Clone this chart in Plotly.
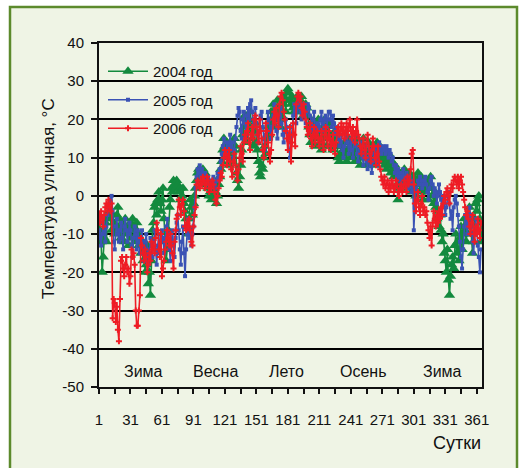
import plotly.graph_objects as go

# ---------------- data ----------------
t2004 = [
    -7, -9, -12, -20, -16, -11, -7, -12, -6, -5,
    -4, -6, -9, -5, -7, -10, -8, -5, -3, -6,
    -8, -11, -7, -9, -12, -6, -10, -8, -13, -9,
    -7, -11, -6, -8, -12, -9, -7, -10, -13, -11,
    -15, -12, -17, -14, -20, -18, -13, -23, -20, -26,
    -17, -9, -7, -3, -2, -5, -1, 1, -2, -4,
    -1, 2, -6, -12, -17, -14, -9, -3, -1, 2,
    1, 4, 3, 2, 4, 3, 1, 2, -1, 0,
    2, -2, -4, -6, -8, -10, -6, -1, -3, -5,
    -2, 0, 2, 4, 6, 7, 5, 6, 4, 7,
    5, 6, 3, 4, 2, 0, 1, -1, 0, 2,
    3, 1, -2, 0, 3, 5, 7, 9, 12, 15,
    13, 10, 14, 12, 8, 11, 14, 9, 12, 15,
    13, 6, 4, 2, 5, 8, 12, 16, 18, 21,
    19, 14, 17, 20, 22, 18, 15, 13, 17, 19,
    14, 12, 9, 6, 5, 8, 7, 10, 13, 11,
    15, 18, 16, 19, 22, 20, 24, 21, 18, 22,
    25, 23, 20, 18, 21, 24, 26, 25, 22, 27,
    28, 27, 25, 24, 26, 23, 22, 24, 25, 26,
    24, 22, 25, 26, 23, 21, 22, 24, 23, 21,
    18, 16, 14, 17, 19, 15, 13, 16, 18, 20,
    17, 14, 12, 15, 18, 20, 17, 13, 15, 19,
    16, 13, 15, 12, 14, 17, 15, 13, 10, 9,
    11, 13, 10, 12, 14, 11, 9, 12, 15, 13,
    10, 12, 14, 11, 9, 13, 15, 12, 10, 8,
    11, 13, 15, 12, 10, 8, 11, 14, 12, 9,
    11, 13, 10, 8, 12, 14, 11, 9, 10, 12,
    11, 9, 8, 10, 7, 9, 11, 8, 6, 9,
    7, 5, 8, 6, 3, -1, 2, 4, 6, 3,
    5, 7, 4, 2, 5, 3, 6, 4, 1, 3,
    5, 2, 0, 4, 6, 3, 1, 5, 2, -1,
    3, 1, 4, 2, -1, 3, 5, 2, 0, -2,
    1, -3, -6, -4, -8, -5, -9, -12, -10, -15,
    -17, -20, -14, -22, -26, -21, -18, -16, -19, -13,
    -10, -15, -12, -17, -11, -8, -14, -10, -6, -9,
    -12, -8, -5, -3, -7, -10, -15, -12, -6, -2,
    -4, -1, 0, -6, -12, -7,
]

t2005 = [
    -9, -11, -13, -10, -7, -9, -12, -8, -5, -3,
    -2, -1, 0, -4, -12, -14, -8, -6, -10, -12,
    -9, -7, -11, -14, -8, -6, -9, -12, -10, -7,
    -9, -13, -16, -11, -8, -10, -14, -9, -12, -15,
    -11, -9, -13, -17, -12, -10, -14, -18, -15, -11,
    -13, -16, -12, -9, -14, -18, -13, -10, -15, -12,
    -9, -11, -15, -12, -8, -6, -10, -14, -17, -12,
    -9, -13, -16, -11, -7, -5, -9, -14, -18, -12,
    -8, -15, -21, -14, -10, -6, -11, -9, -13, -10,
    -8, -3, 2, 5, 7, 6, 8, 5, 7, 6,
    4, 6, 5, 3, 5, 4, 2, 4, 3, 5,
    3, 2, 4, 6, 4, 7, 9, 11, 13, 15,
    12, 10, 14, 11, 13, 16, 12, 14, 10, 12,
    15, 18, 21, 23, 22, 17, 15, 20, 22, 19,
    16, 21, 23, 20, 24, 25, 22, 18, 20, 23,
    19, 16, 14, 17, 21, 22, 18, 15, 12, 16,
    19, 22, 20, 17, 15, 18, 21, 24, 20, 17,
    15, 18, 21, 23, 19, 16, 14, 17, 20, 18,
    15, 12, 10, 14, 18, 21, 24, 22, 19, 23,
    25, 24, 22, 20, 23, 24, 21, 19, 22, 24,
    23, 21, 19, 17, 20, 22, 18, 16, 19, 17,
    18, 20, 22, 19, 17, 20, 21, 18, 20, 22,
    22, 20, 18, 21, 19, 17, 16, 18, 15, 13,
    14, 16, 12, 10, 13, 15, 17, 14, 11, 13,
    15, 12, 10, 14, 16, 13, 11, 9, 12, 14,
    12, 10, 8, 11, 13, 9, 7, 10, 12, 8,
    6, 9, 11, 13, 10, 8, 12, 14, 13, 11,
    12, 13, 12, 11, 13, 12, 10, 12, 11, 9,
    10, 8, 6, 8, 5, 7, 4, 6, 3, 5,
    7, 5, 3, 6, 4, 2, 5, 3, 1, 4,
    -9, -3, 2, 1, 4, 3, 5, 4, 2, 3,
    4, 5, 3, 1, -1, 2, 4, 5, 3, 0,
    2, 1, -2, 0, 3, 1, -1, -3, 0, -2,
    -5, -3, 0, 1, -2, -6, -4, -9, -3, -1,
    0, -2, -5, -8, -12, -16, -19, -14, -8, -5,
    -7, -10, -6, -3, -5, -8, -12, -15, -10, -6,
    -9, -13, -16, -20, -14,
]

t2006 = [
    -5, -7, -4, -6, -8, -5, -3, -2, -4, -1,
    -3, -4, -2, -32, -27, -28, -33, -29, -35, -38,
    -27, -17, -16, -19, -21, -18, -16, -20, -19, -23,
    -21, -14, -16, -15, -18, -30, -34, -34, -30, -26,
    -11, -13, -15, -17, -14, -16, -20, -18, -15, -17,
    -12, -14, -13, -15, -11, -7, -9, -14, -16, -10,
    -21, -19, -17, -14, -12, -9, -11, -13, -10, -13,
    -15, -19, -12, -9, -6, -5, -1, -3, -5, -2,
    -1, -4, -8, -9, -7, -8, -6, -9, -12, -13,
    -8, -5, -3, 3, 4, 3, 2, 4, 3, 5,
    4, 2, 3, 5, 4, 1, 3, 2, 4, 3,
    1, -1, -2, 0, 2, 4, 6, 5, 8, 10,
    12, 11, 8, 10, 12, 9, 7, 5, 9, 11,
    8, 6, 4, 7, 10, 13, 11, 9, 14, 16,
    15, 17, 19, 14, 12, 16, 18, 15, 20, 21,
    18, 16, 14, 20, 17, 15, 12, 10, 13, 19,
    17, 14, 11, 9, 12, 16, 20, 22, 19, 23,
    21, 18, 24, 26, 27, 25, 22, 20, 17, 15,
    12, 16, 18, 9, 14, 19, 16, 13, 24, 26,
    27, 25, 26, 23, 21, 24, 22, 20, 18, 16,
    17, 19, 15, 13, 16, 18, 14, 16, 17, 15,
    13, 15, 17, 14, 12, 16, 18, 15, 13, 17,
    15, 12, 14, 16, 13, 11, 14, 17, 18, 16,
    17, 19, 16, 18, 15, 17, 19, 16, 18, 20,
    17, 15, 18, 16, 14, 17, 20, 16, 15, 13,
    11, 13, 15, 12, 10, 14, 16, 13, 11, 9,
    12, 15, 13, 10, 8, 11, 13, 9, 7, 5,
    4, 3, 5, 2, 3, 4, 1, 3, 2, 4,
    3, 1, 2, 4, 3, 1, 0, 2, 3, 1,
    2, 4, 3, 1, 5, 3, 4, 7, 11, 12,
    3, -2, -4, -1, 1, -3, -5, -2, 0, -4,
    -3, -5, -4, -7, -9, -11, -8, -13, -7, -4,
    -6, -8, -5, -7, -4, -6, -3, -5, -2, 0,
    -1, 1, 2, 0, -2, 1, 3, 2, 4, 5,
    4, 3, 5, 2, 4, 5, 3, 1, -1, -3,
    -5, -4, -6, -8, -10, -7, -5, -9, -12, -8,
    -10, -6, -9, -11, -7,
]

series_names = ["2004 год", "2005 год", "2006 год"]
series_values = [t2004, t2005, t2006]

x_tick_values = list(range(1, 362, 15))
x_tick_labels = [str(v) if (v - 1) % 30 == 0 else "" for v in x_tick_values]

y_tick_values = list(range(-50, 41, 10))
y_tick_labels = [str(v) for v in y_tick_values]  # plain hyphen minus, as in the original

season_names = ["Зима", "Весна", "Лето", "Осень", "Зима"]
season_days = [43, 112, 180, 253, 328]
season_level = -46

y_title = "Температура уличная, °С"
x_title = "Сутки"

# ---------------- styling ----------------
W, H = 520, 468
ML, MT, MR, MB = 99, 43, 38, 81
PW, PH = W - ML - MR, H - MT - MB

FONT = "Liberation Sans, Arial, sans-serif"
colors = ["#138a3e", "#3a52b4", "#ee1c25"]
markers = [dict(symbol="triangle-up", size=10),
           dict(symbol="square", size=4),
           dict(symbol="cross", size=5)]


def px_x(p):
    return (p - ML) / PW


def px_y(p):
    return (H - MB - p) / PH


fig = go.Figure()
for name, vals, col, mk in zip(series_names, series_values, colors, markers):
    fig.add_trace(go.Scatter(
        x=list(range(1, len(vals) + 1)), y=vals, name=name,
        mode="lines+markers", legendgroup=name,
        line=dict(color=col, width=1.6),
        marker=dict(color=col, line=dict(width=0), **mk),
    ))

# frame around the whole picture
fig.add_shape(type="rect", xref="paper", yref="paper",
              x0=px_x(10), x1=px_x(517), y0=px_y(480), y1=px_y(7),
              fillcolor="#eff4e5", line=dict(color="#5c8a2c", width=2.5),
              layer="below")

for name, d in zip(season_names, season_days):
    fig.add_annotation(x=d, y=season_level, text=name, showarrow=False,
                       font=dict(size=16, color="#111"), xanchor="center", yanchor="middle")

fig.add_annotation(x=px_x(48), y=px_y(199), xref="paper", yref="paper", text=y_title,
                   textangle=-90, showarrow=False, font=dict(size=17, color="#111"),
                   xanchor="center", yanchor="middle")
fig.add_annotation(x=px_x(457), y=px_y(443), xref="paper", yref="paper", text=x_title,
                   showarrow=False, font=dict(size=18, color="#111"),
                   xanchor="center", yanchor="middle")

fig.update_layout(
    width=W, height=H,
    margin=dict(l=ML, r=MR, t=MT, b=MB, pad=0),
    paper_bgcolor="white", plot_bgcolor="rgba(0,0,0,0)",
    font=dict(family=FONT, size=15, color="#111"),
    showlegend=True,
    legend=dict(x=px_x(103), y=px_y(55), xanchor="left", yanchor="top",
                bgcolor="rgba(0,0,0,0)", font=dict(size=15, color="#111"),
                tracegroupgap=6, itemwidth=40, traceorder="grouped"),
)
fig.update_xaxes(range=[1, 366], tickvals=x_tick_values, ticktext=x_tick_labels,
                 ticks="outside", ticklen=5, tickwidth=1.5, tickcolor="#111",
                 showline=True, linecolor="#111", linewidth=2, mirror=True,
                 showgrid=False, zeroline=False, ticklabelstandoff=13,
                 tickfont=dict(size=15))
fig.update_yaxes(range=[-50, 40], tickvals=y_tick_values, ticktext=y_tick_labels,
                 ticks="outside", ticklen=6, tickwidth=1.5, tickcolor="#111",
                 showline=True, linecolor="#111", linewidth=2, mirror=True,
                 showgrid=True, gridcolor="#000000", gridwidth=2,
                 zeroline=False, ticklabelstandoff=4, tickfont=dict(size=15))

fig.write_html("out.html", config={"displayModeBar": False},
               post_script="document.body.style.margin='0';")
